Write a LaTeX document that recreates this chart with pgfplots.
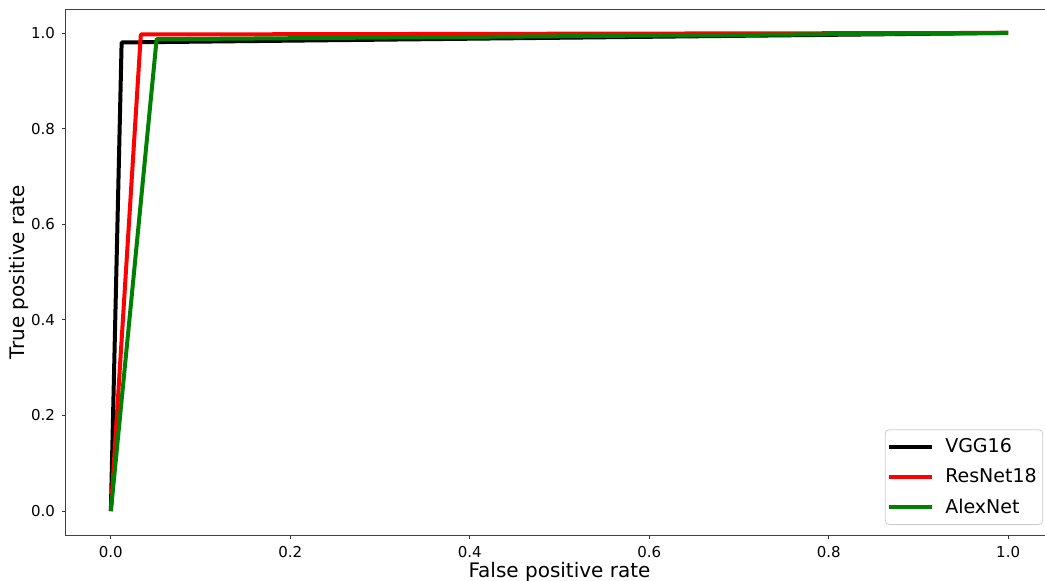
\documentclass[border=0pt]{standalone}
\usepackage{pgfplots}
\pgfplotsset{compat=1.18}
\usepackage{fontspec}
\setmainfont{DejaVu Sans}
\begin{document}
\begin{tikzpicture}
\begin{scope}
\clip (-33pt,-22.5pt) rectangle (489.5pt,267.5pt);
\begin{axis}[name=ax, at={(0pt,0pt)}, anchor=south west, scale only axis, width=493.5pt, height=263pt,
  xmin=-0.05, xmax=1.05, ymin=-0.05, ymax=1.05,
  xtick={0,0.2,0.4,0.6,0.8,1.0}, ytick={0,0.2,0.4,0.6,0.8,1.0},
  tick align=outside, major tick length=2pt, tick style={black!80, line width=0.4pt},
  tick pos=left,
  /pgf/number format/.cd, fixed, fixed zerofill, precision=1, assume math mode=true, /pgfplots/.cd,
  ticklabel style={font=\fontsize{7.5}{9}\selectfont},
  xlabel={False positive rate}, ylabel={True positive rate},
  label style={font=\fontsize{10}{12}\selectfont},
  xlabel style={at={(axis description cs:0.5,0)}, anchor=base, yshift=-21pt},
  ylabel style={at={(axis description cs:0,0.5)}, anchor=base, yshift=20.5pt},
  axis line style={black!75, line width=0.5pt},
  legend style={at={(0.99,0.019)}, anchor=south east, font=\fontsize{9.5}{11}\selectfont,
    draw=black!20, rounded corners=2pt, row sep=2.6pt, inner xsep=1pt, inner ysep=2.2pt,
    nodes={inner xsep=2pt}},
  legend cell align=left,
  legend image code/.code={\draw[#1, line width=2pt] (0pt,0pt) -- (21.5pt,0pt); \path (25pt,0pt);},
]
\addplot[black, line width=2pt, line join=round] coordinates {(0,0) (0.012,0.98) (1,1)};
\addlegendentry{VGG16}
\addplot[red, line width=2pt, line join=round] coordinates {(0,0) (0.0334,0.9967) (1,1)};
\addlegendentry{ResNet18}
\addplot[green!50!black, line width=2pt, line join=round] coordinates {(0,0) (0.051,0.9868) (1,1)};
\addlegendentry{AlexNet}
\end{axis}
\end{scope}
\pgfresetboundingbox
\useasboundingbox (-33pt,-22.5pt) rectangle (489.5pt,267.5pt);
\end{tikzpicture}
\end{document}
